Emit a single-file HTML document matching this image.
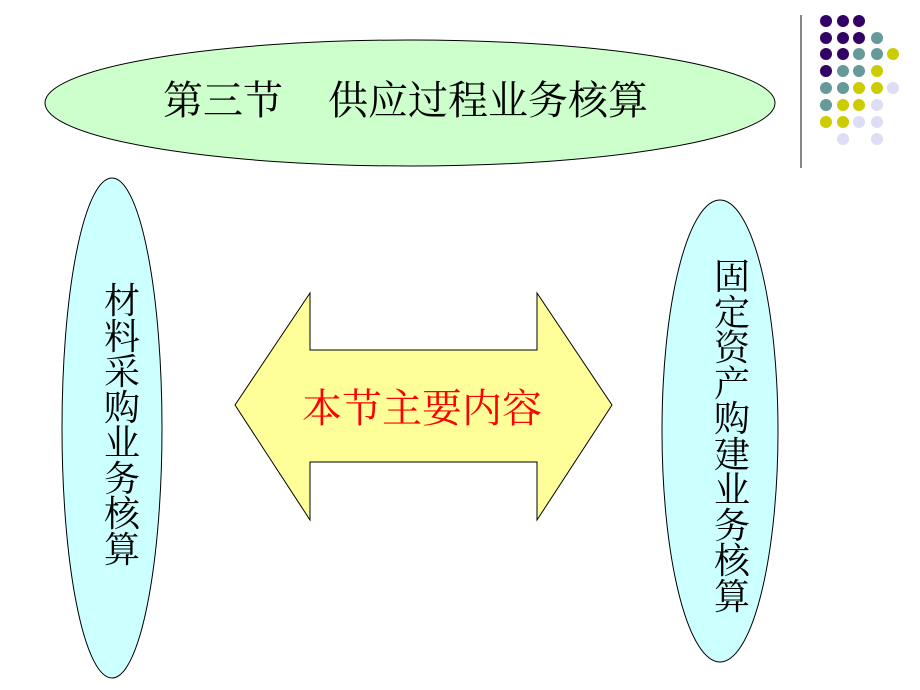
<!DOCTYPE html>
<html><head><meta charset="utf-8"><style>
body{margin:0;width:920px;height:690px;background:#fff;overflow:hidden;position:relative;font-family:"Liberation Serif","Noto Serif CJK SC","Noto Sans CJK SC",serif}
.v{position:absolute;text-align:center;font-size:36px;color:#000}
.t{position:absolute;white-space:nowrap;font-size:40px;line-height:46px}
</style></head><body>
<svg width="920" height="690" style="position:absolute;left:0;top:0">
<ellipse cx="410" cy="103" rx="365" ry="63" fill="#ccffcc" stroke="#000" stroke-width="1"/>
<ellipse cx="112" cy="428" rx="50" ry="250" fill="#ccffff" stroke="#000" stroke-width="1"/>
<ellipse cx="720" cy="431" rx="58" ry="231" fill="#ccffff" stroke="#000" stroke-width="1"/>
<polygon points="235,405 310,293 310,350 537,350 537,293 612,405 537,520 537,462 310,462 310,520" fill="#ffff99" stroke="#000" stroke-width="1"/>
<line x1="801" y1="15" x2="801" y2="168" stroke="#888" stroke-width="2"/>
<g>
<circle cx="826" cy="21" r="6" fill="#330066"/><circle cx="843" cy="21" r="6" fill="#330066"/><circle cx="859" cy="21" r="6" fill="#330066"/>
<circle cx="826" cy="38" r="6" fill="#330066"/><circle cx="843" cy="38" r="6" fill="#330066"/><circle cx="859" cy="38" r="6" fill="#330066"/><circle cx="877" cy="38" r="6" fill="#669999"/>
<circle cx="826" cy="54" r="6" fill="#330066"/><circle cx="843" cy="54" r="6" fill="#330066"/><circle cx="859" cy="54" r="6" fill="#669999"/><circle cx="877" cy="54" r="6" fill="#669999"/><circle cx="893" cy="54" r="6" fill="#cccc00"/>
<circle cx="826" cy="71" r="6" fill="#330066"/><circle cx="843" cy="71" r="6" fill="#669999"/><circle cx="859" cy="71" r="6" fill="#669999"/><circle cx="877" cy="71" r="6" fill="#cccc00"/>
<circle cx="826" cy="88" r="6" fill="#669999"/><circle cx="843" cy="88" r="6" fill="#669999"/><circle cx="859" cy="88" r="6" fill="#cccc00"/><circle cx="877" cy="88" r="6" fill="#cccc00"/><circle cx="893" cy="88" r="6" fill="#ddddf5"/>
<circle cx="826" cy="105" r="6" fill="#669999"/><circle cx="843" cy="105" r="6" fill="#cccc00"/><circle cx="859" cy="105" r="6" fill="#cccc00"/><circle cx="877" cy="105" r="6" fill="#ddddf5"/>
<circle cx="826" cy="122" r="6" fill="#cccc00"/><circle cx="843" cy="122" r="6" fill="#cccc00"/><circle cx="859" cy="122" r="6" fill="#ddddf5"/><circle cx="877" cy="122" r="6" fill="#ddddf5"/>
<circle cx="843" cy="139" r="6" fill="#ddddf5"/><circle cx="877" cy="139" r="6" fill="#ddddf5"/>
</g>
</svg>
<div class="t" style="left:163px;top:78px">第三节</div>
<div class="t" style="left:328px;top:78px">供应过程业务核算</div>
<div class="t" style="left:302px;top:386px;color:#ff0000">本节主要内容</div>
<div class="v" style="left:100px;top:284px;width:44px;line-height:35.5px">材<br>料<br>采<br>购<br>业<br>务<br>核<br>算</div>
<div class="v" style="left:710px;top:260px;width:44px;line-height:35.5px">固<br>定<br>资<br>产<br>购<br>建<br>业<br>务<br>核<br>算</div>
</body></html>
